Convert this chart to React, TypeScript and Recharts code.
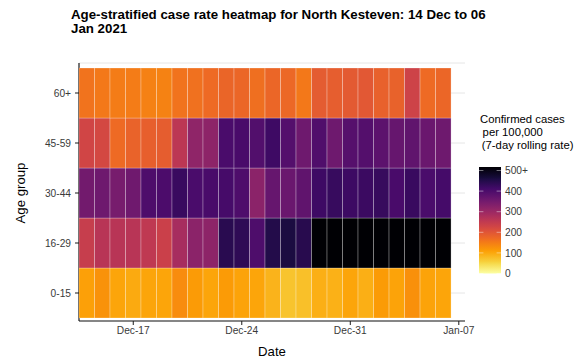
import React from "react";
import { ScatterChart, Scatter, XAxis, YAxis, CartesianGrid } from "recharts";

// ---------- data ----------
const days = [
  "Dec-14", "Dec-15", "Dec-16", "Dec-17", "Dec-18", "Dec-19", "Dec-20", "Dec-21",
  "Dec-22", "Dec-23", "Dec-24", "Dec-25", "Dec-26", "Dec-27", "Dec-28", "Dec-29",
  "Dec-30", "Dec-31", "Jan-01", "Jan-02", "Jan-03", "Jan-04", "Jan-05", "Jan-06",
];
const ageGroups = ["0-15", "16-29", "30-44", "45-59", "60+"];

const rate0_15 = [105, 120, 100, 95, 100, 100, 127, 110, 100, 110, 102, 100, 85, 68, 72, 90, 88, 100, 90, 110, 102, 122, 102, 100];
const rate16_29 = [235, 255, 255, 255, 245, 230, 275, 310, 308, 428, 422, 385, 435, 445, 430, 540, 560, 575, 590, 600, 610, 590, 580, 570];
const rate30_44 = [340, 345, 335, 344, 385, 388, 410, 390, 392, 395, 385, 310, 355, 350, 362, 405, 412, 406, 408, 413, 392, 410, 390, 396];
const rate45_59 = [220, 215, 165, 175, 180, 183, 250, 305, 308, 390, 392, 380, 405, 378, 345, 383, 345, 375, 378, 368, 355, 362, 350, 345];
const rate60plus = [155, 150, 145, 145, 140, 138, 155, 158, 165, 172, 170, 160, 170, 168, 150, 185, 182, 188, 190, 178, 176, 225, 165, 170];

const xTicks = [3, 10, 17, 24];
const xTickLabels = ["Dec-17", "Dec-24", "Dec-31", "Jan-07"];
const legendBreaks = [0, 100, 200, 300, 400, 500];
const legendLabels = ["0", "100", "200", "300", "400", "500+"];
const RATE_MAX = 500;

// ---------- colour scale (inferno, reversed) ----------
const INFERNO: [number, string][] = [
  [0, "#000004"], [0.1, "#160B39"], [0.111, "#1B0C42"], [0.2, "#420A68"], [0.222, "#4B0C6B"],
  [0.3, "#6A176E"], [0.333, "#781C6D"], [0.4, "#932667"], [0.444, "#A52C60"], [0.5, "#BC3754"],
  [0.556, "#CF4446"], [0.6, "#DD513A"], [0.667, "#ED6925"], [0.7, "#F37819"], [0.778, "#FB9A06"],
  [0.8, "#FCA50A"], [0.889, "#F7D03C"], [0.9, "#F6D746"], [1, "#FCFFA4"],
];
const hex = (h: string) => [1, 3, 5].map((i) => parseInt(h.slice(i, i + 2), 16));
function inferno(t: number): string {
  t = Math.max(0, Math.min(1, t));
  for (let i = 1; i < INFERNO.length; i++) {
    const [t1, c1] = INFERNO[i];
    const [t0, c0] = INFERNO[i - 1];
    if (t <= t1) {
      const f = (t - t0) / (t1 - t0);
      const a = hex(c0), b = hex(c1);
      const c = a.map((v, k) => Math.round(v + (b[k] - v) * f));
      return `rgb(${c[0]},${c[1]},${c[2]})`;
    }
  }
  return INFERNO[INFERNO.length - 1][1];
}
const rateColor = (v: number) => inferno(1 - Math.min(v, RATE_MAX) / RATE_MAX);

const seriesByAge = [rate0_15, rate16_29, rate30_44, rate45_59, rate60plus];
const cells = seriesByAge.flatMap((arr, row) =>
  arr.map((v, i) => ({ x: i, y: row, v, day: days[i], age: ageGroups[row] }))
);

// ---------- layout ----------
const W = 585;
const H = 362;
const PLOT_LEFT = 79;
const PLOT_RIGHT = 465;
const PLOT_TOP = 63;
const PLOT_BOTTOM = 321;
const Y_AXIS_W = 60;
const X_AXIS_H = 30;
const X_DOMAIN: [number, number] = [-0.5, 24.4];
const Y_DOMAIN: [number, number] = [-0.56, 4.6];
const CELL_W = (PLOT_RIGHT - PLOT_LEFT) / (X_DOMAIN[1] - X_DOMAIN[0]);
const CELL_H = (PLOT_BOTTOM - PLOT_TOP) / (Y_DOMAIN[1] - Y_DOMAIN[0]);

const FONT = "'Liberation Sans', Arial, sans-serif";
const TICK_STYLE = { fontSize: 10.2, fill: "#3a3a3a", fontFamily: FONT };

const Tile = (props: any) => {
  const { cx, cy, payload } = props;
  if (cx == null || cy == null) return null;
  return (
    <rect
      x={cx - CELL_W / 2}
      y={cy - CELL_H / 2}
      width={CELL_W}
      height={CELL_H}
      fill={rateColor(payload.v)}
      stroke="rgba(255,255,255,0.32)"
      strokeWidth={0.8}
    />
  );
};

// colour bar geometry
const CB_X = 479;
const CB_W = 22;
const CB_Y0 = 273.5; // value 0
const CB_Y500 = 170.5; // value 500
const cbY = (v: number) => CB_Y0 + (CB_Y500 - CB_Y0) * (v / RATE_MAX);

export default function App() {
  const gradStops = INFERNO.map(([t, c]) => ({ off: 1 - t, c })).sort((a, b) => a.off - b.off);
  return (
    <div style={{ position: "absolute", left: 0, top: 0, width: W, height: H, background: "#fff" }}>
      <ScatterChart
        width={W}
        height={H}
        margin={{
          top: PLOT_TOP,
          right: W - PLOT_RIGHT,
          bottom: H - PLOT_BOTTOM - X_AXIS_H,
          left: PLOT_LEFT - Y_AXIS_W,
        }}
      >
        <CartesianGrid horizontal vertical={false} stroke="#e6e6e6" strokeWidth={1} />
        <XAxis
          type="number"
          dataKey="x"
          domain={X_DOMAIN}
          allowDataOverflow
          ticks={xTicks}
          interval={0}
          tickFormatter={(t: number) => xTickLabels[xTicks.indexOf(t)] ?? ""}
          height={X_AXIS_H}
          tickSize={4}
          tickMargin={2}
          axisLine={{ stroke: "#1a1a1a", strokeWidth: 1.2 }}
          tickLine={{ stroke: "#1a1a1a" }}
          tick={TICK_STYLE}
        />
        <YAxis
          type="number"
          dataKey="y"
          domain={Y_DOMAIN}
          allowDataOverflow
          ticks={[0, 1, 2, 3, 4]}
          interval={0}
          tickFormatter={(t: number) => ageGroups[t] ?? ""}
          width={Y_AXIS_W}
          tickSize={4}
          tickMargin={4}
          axisLine={{ stroke: "#1a1a1a", strokeWidth: 1.2 }}
          tickLine={{ stroke: "#1a1a1a" }}
          tick={TICK_STYLE}
        />
        <Scatter data={cells} shape={Tile} isAnimationActive={false} />
      </ScatterChart>

      <svg
        width={W}
        height={H}
        style={{ position: "absolute", left: 0, top: 0, pointerEvents: "none" }}
        fontFamily={FONT}
      >
        <defs>
          <linearGradient id="cbar" x1="0" y1="1" x2="0" y2="0">
            {gradStops.map((s, i) => (
              <stop key={i} offset={s.off} stopColor={s.c} />
            ))}
          </linearGradient>
        </defs>
        <text x={71} y={18.8} fontSize={13.3} fontWeight="bold" fill="#000">
          Age-stratified case rate heatmap for North Kesteven: 14 Dec to 06
        </text>
        <text x={71} y={32.8} fontSize={13.3} fontWeight="bold" fill="#000">
          Jan 2021
        </text>

        <text x={24.5} y={193} fontSize={13.2} fill="#000" textAnchor="middle" transform="rotate(-90 24.5 193)">
          Age group
        </text>
        <text x={272} y={356} fontSize={13.2} fill="#000" textAnchor="middle">
          Date
        </text>

        <text x={480} y={123} fontSize={11.3} fill="#000">Confirmed cases</text>
        <text x={482.6} y={136} fontSize={11.3} fill="#000">per 100,000</text>
        <text x={481.8} y={149} fontSize={11.3} fill="#000">(7-day rolling rate)</text>

        <rect x={CB_X} y={cbY(RATE_MAX) - 3.5} width={CB_W} height={cbY(0) - cbY(RATE_MAX) + 3.5} fill="url(#cbar)" />
        {legendBreaks.map((b, i) => (
          <g key={b}>
            <line x1={CB_X} x2={CB_X + 4.4} y1={cbY(b)} y2={cbY(b)} stroke="rgba(255,255,255,0.55)" strokeWidth={0.8} />
            <line x1={CB_X + CB_W - 4.4} x2={CB_X + CB_W} y1={cbY(b)} y2={cbY(b)} stroke="rgba(255,255,255,0.55)" strokeWidth={0.8} />
            <text x={505} y={cbY(b)} dy="0.36em" fontSize={10.2} fill="#3a3a3a">
              {legendLabels[i]}
            </text>
          </g>
        ))}
      </svg>
    </div>
  );
}
